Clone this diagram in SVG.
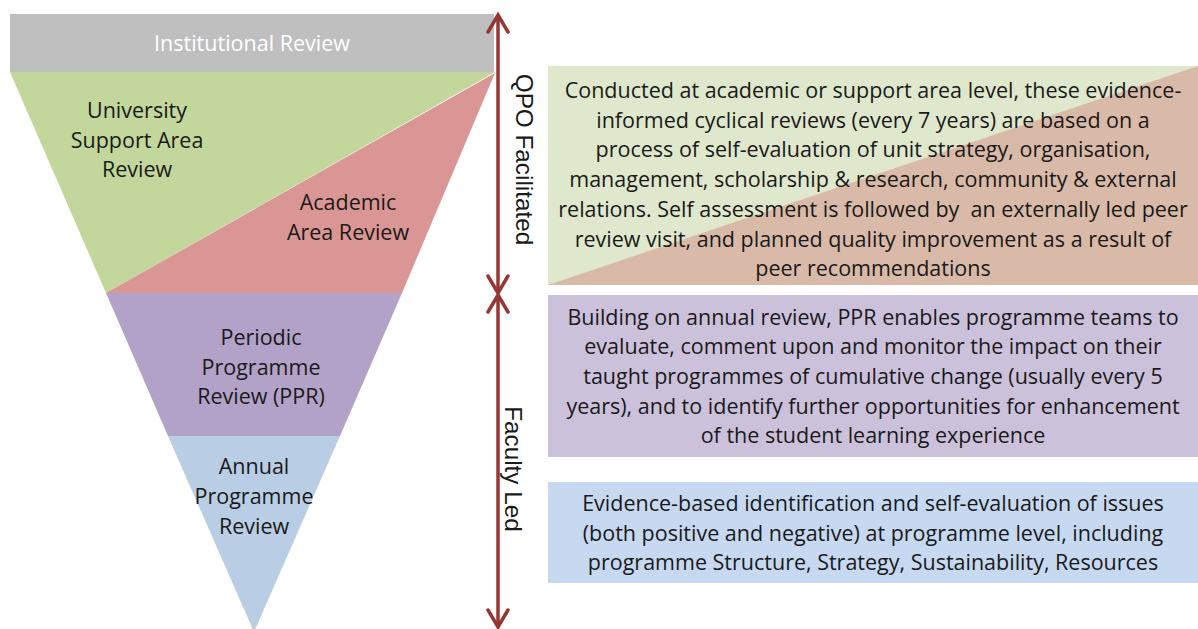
<svg xmlns="http://www.w3.org/2000/svg" width="1198" height="629" viewBox="0 0 1198 629">
<style>
text{font-family:"Open Sans","Liberation Sans",Arial,sans-serif;font-size:21.5px;fill:#1a1a1a;text-anchor:middle}
.lbl{font-size:21.5px}
.rot{font-family:"Liberation Sans",Arial,sans-serif;font-size:24.3px}
.w{fill:#ffffff}
.arr{stroke:#953735;stroke-width:3.5;fill:none}
</style>
<defs>
<marker id="head" markerUnits="userSpaceOnUse" viewBox="-2 -2 26 26" refX="20" refY="11" markerWidth="26" markerHeight="26" orient="auto-start-reverse">
<path d="M3,1 L20,11 L3,21" fill="none" stroke="#953735" stroke-width="3.5" stroke-linecap="round" stroke-linejoin="miter"/>
</marker>
</defs>
<rect width="1198" height="629" fill="#ffffff"/>
<g id="institutional">
<rect x="10" y="14" width="484" height="58" fill="#bfbfbf"/>
<text class="lbl w" x="252" y="51">Institutional Review</text>
</g>
<g id="support-area">
<polygon points="10,72 495,72 106,293" fill="#c3d69b"/>
<text class="lbl" x="137" y="118">University</text>
<text class="lbl" x="137" y="148">Support Area</text>
<text class="lbl" x="137" y="177">Review</text>
</g>
<g id="academic-area">
<polygon points="495,73 106,293 402,293" fill="#d99694"/>
<text class="lbl" x="348" y="210">Academic</text>
<text class="lbl" x="348" y="240">Area Review</text>
</g>
<g id="ppr">
<polygon points="106,293 402,293 340,436 168,436" fill="#b2a2c7"/>
<text class="lbl" x="261" y="345">Periodic</text>
<text class="lbl" x="261" y="375">Programme</text>
<text class="lbl" x="261" y="404">Review (PPR)</text>
</g>
<g id="annual">
<polygon points="168,436 340,436 254,632" fill="#b9cde5"/>
<text class="lbl" x="254" y="474">Annual</text>
<text class="lbl" x="254" y="504">Programme</text>
<text class="lbl" x="254" y="534">Review</text>
</g>
<g id="connectors">
<line class="arr" x1="498" y1="15" x2="498" y2="293" marker-start="url(#head)" marker-end="url(#head)"/>
<line class="arr" x1="498" y1="295" x2="498" y2="627" marker-start="url(#head)" marker-end="url(#head)"/>
</g>
<g id="qpo-label">
<text class="rot" transform="translate(524,159.5) rotate(90)" x="0" y="8">QPO Facilitated</text>
</g>
<g id="faculty-label">
<text class="rot" transform="translate(514,469) rotate(90)" x="0" y="9">Faculty Led</text>
</g>
<g id="box-qpo">
<rect x="548" y="66" width="650" height="219" fill="#d9b9a7"/>
<polygon points="548,66 1198,66 548,285" fill="#dfe7cc"/>
<text x="873" y="98">Conducted at academic or support area level, these evidence-</text>
<text x="873" y="128">informed cyclical reviews (every 7 years) are based on a</text>
<text x="873" y="157">process of self-evaluation of unit strategy, organisation,</text>
<text x="873" y="187">management, scholarship &amp; research, community &amp; external</text>
<text x="873" y="217" xml:space="preserve">relations. Self assessment is followed by  an externally led peer</text>
<text x="873" y="247">review visit, and planned quality improvement as a result of</text>
<text x="873" y="276">peer recommendations</text>
</g>
<g id="box-ppr">
<rect x="548" y="295" width="650" height="162" fill="#ccc1da"/>
<text x="873" y="325">Building on annual review, PPR enables programme teams to</text>
<text x="873" y="354">evaluate, comment upon and monitor the impact on their</text>
<text x="873" y="384">taught programmes of cumulative change (usually every 5</text>
<text x="873" y="414">years), and to identify further opportunities for enhancement</text>
<text x="873" y="443">of the student learning experience</text>
</g>
<g id="box-annual">
<rect x="548" y="482" width="650" height="101" fill="#c6d9f1"/>
<text x="873" y="511">Evidence-based identification and self-evaluation of issues</text>
<text x="873" y="541">(both positive and negative) at programme level, including</text>
<text x="873" y="570">programme Structure, Strategy, Sustainability, Resources</text>
</g>
</svg>
